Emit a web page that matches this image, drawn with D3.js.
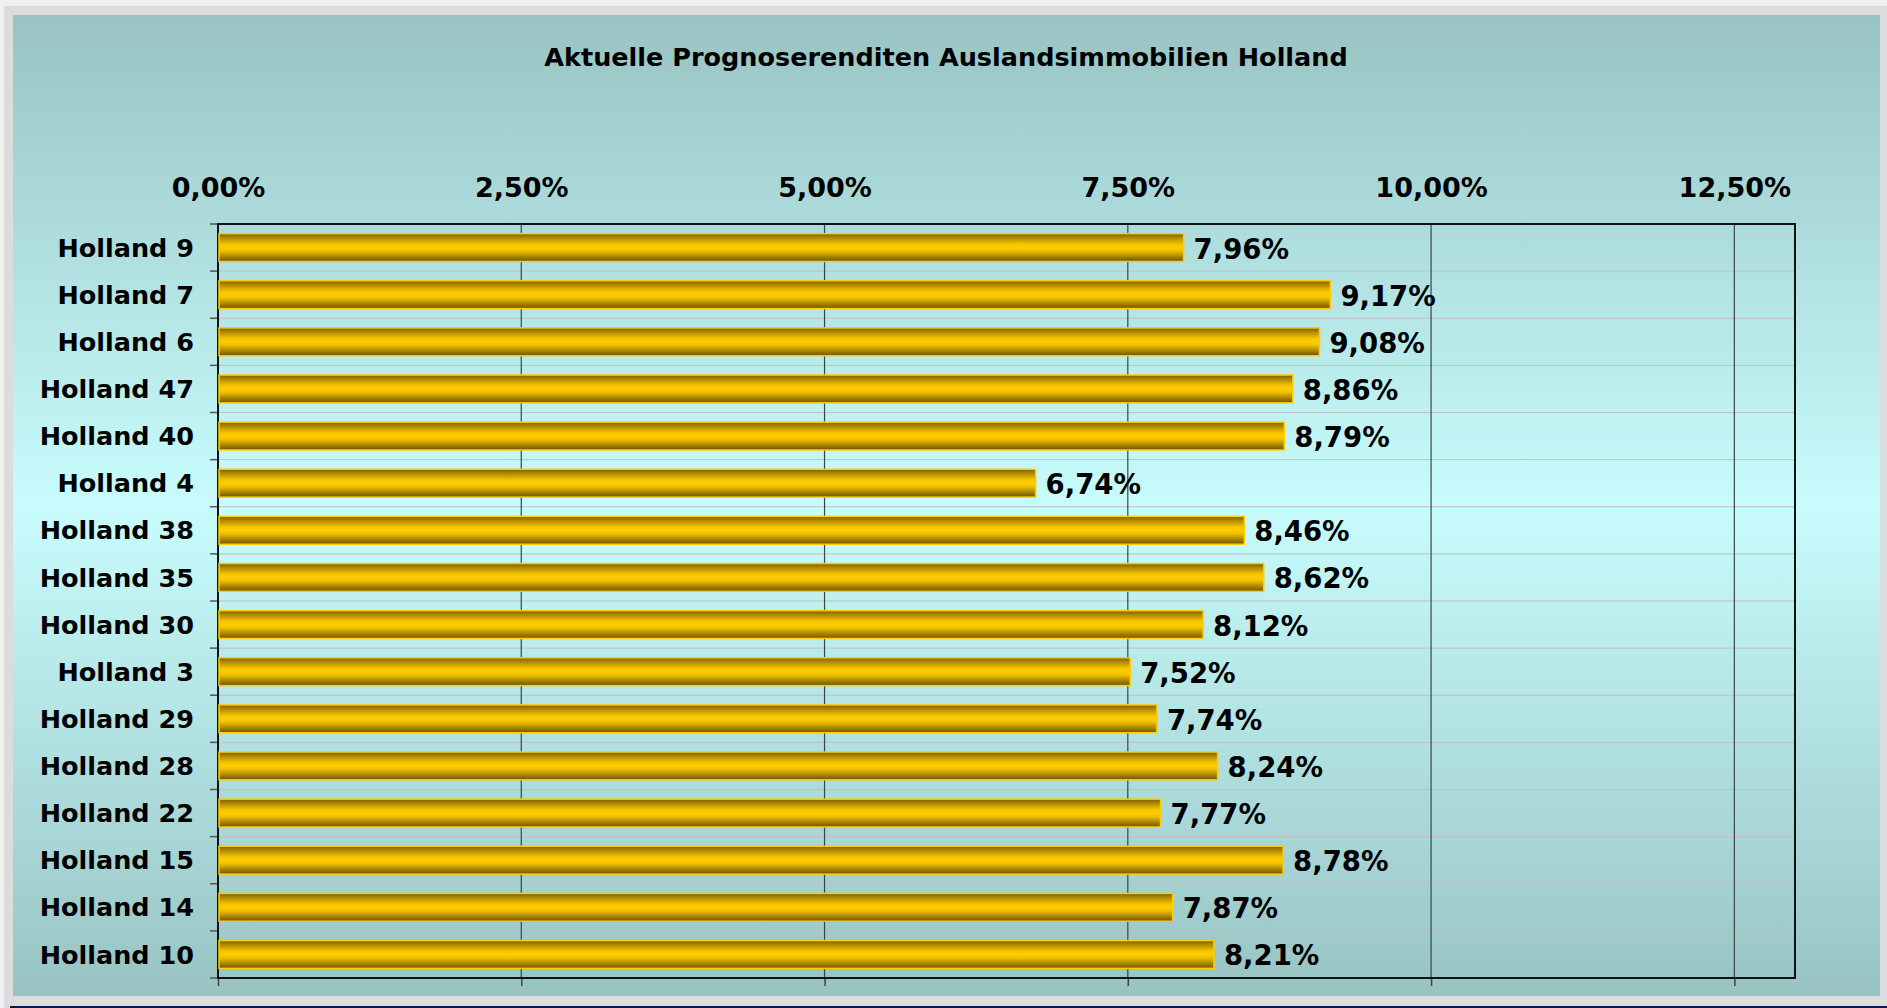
<!DOCTYPE html>
<html>
<head>
<meta charset="utf-8">
<script src="https://cdn.jsdelivr.net/npm/d3@7"></script>
<style>
    body { margin: 0; background: #dcdcdc; }
    svg text { font-family: "DejaVu Sans", Verdana, sans-serif; font-weight: bold; fill: #000; }
</style>
</head>
<body>
<svg id="chart" width="1887" height="1008"></svg>
<script>
// data, top bar first
let categories = ["Holland 9", "Holland 7", "Holland 6", "Holland 47", "Holland 40", "Holland 4",
    "Holland 38", "Holland 35", "Holland 30", "Holland 3", "Holland 29", "Holland 28",
    "Holland 22", "Holland 15", "Holland 14", "Holland 10"];
let values = [7.96, 9.17, 9.08, 8.86, 8.79, 6.74, 8.46, 8.62, 8.12, 7.52, 7.74, 8.24, 7.77, 8.78, 7.87, 8.21];
let tick_values = [0, 2.5, 5, 7.5, 10, 12.5];
let title = "Aktuelle Prognoserenditen Auslandsimmobilien Holland";

let de = d3.formatLocale({decimal: ",", thousands: ".", grouping: [3], currency: ["", " €"]});
let fmt = function (v) { return de.format(".2f")(v) + "%"; };

let svg = d3.select("#chart");
let W = 1887, H = 1008;
let plot = {left: 218, top: 224, right: 1795, bottom: 978};

let defs = svg.append("defs");

// chart background: teal -> light cyan -> teal
let bg = defs.append("linearGradient").attr("id", "bg").attr("x1", 0).attr("y1", 0).attr("x2", 0).attr("y2", 1);
[[0, "#99c3c3"], [0.5, "#c8fcfc"], [1, "#99c3c3"]].forEach(function (s) {
    bg.append("stop").attr("offset", s[0]).attr("stop-color", s[1]);
});

// gold cylinder bars
let bar_grad = defs.append("linearGradient").attr("id", "gold").attr("x1", 0).attr("y1", 0).attr("x2", 0).attr("y2", 1);
[[0, "#7a5e00"], [0.15, "#b08a00"], [0.38, "#f5c400"], [0.5, "#ffcc00"], [0.62, "#f0c000"], [0.85, "#a07e00"], [1, "#6e5400"]].forEach(function (s) {
    bar_grad.append("stop").attr("offset", s[0]).attr("stop-color", s[1]);
});

// outer frame
svg.append("rect").attr("x", 0).attr("y", 0).attr("width", W).attr("height", 6).attr("fill", "#f0f0f0");
svg.append("rect").attr("x", 0).attr("y", 0).attr("width", 4).attr("height", H).attr("fill", "#f0f0f0");
svg.append("rect").attr("x", 13).attr("y", 15).attr("width", 1867).attr("height", 981).attr("fill", "url(#bg)");
svg.append("rect").attr("x", 10).attr("y", 1006).attr("width", W - 10).attr("height", 2).attr("fill", "#0a1a50");

svg.append("text")
    .attr("x", 946).attr("y", 66)
    .attr("text-anchor", "middle")
    .style("font-size", "25.5px")
    .text(title);

let x = d3.scaleLinear().domain([0, 13]).range([plot.left, plot.right]);
let y = d3.scaleBand().domain(categories).range([plot.top, plot.bottom])
    .paddingInner(0.41).paddingOuter(0.205);
let step = y.step();

// horizontal gridlines between categories
svg.append("g").selectAll("line")
    .data(d3.range(1, categories.length))
    .enter().append("line")
    .attr("x1", plot.left).attr("x2", plot.right)
    .attr("y1", function (i) { return plot.top + i * step; })
    .attr("y2", function (i) { return plot.top + i * step; })
    .attr("stroke", "#c0c0c0").attr("stroke-width", 1);

// vertical gridlines
svg.append("g").selectAll("line")
    .data(tick_values.slice(1))
    .enter().append("line")
    .attr("x1", function (d) { return x(d); }).attr("x2", function (d) { return x(d); })
    .attr("y1", plot.top).attr("y2", plot.bottom)
    .attr("stroke", "#3a4646").attr("stroke-width", 1.2);

// category tick marks on the left
svg.append("g").selectAll("line")
    .data(d3.range(0, categories.length + 1))
    .enter().append("line")
    .attr("x1", plot.left - 8).attr("x2", plot.left)
    .attr("y1", function (i) { return plot.top + i * step; })
    .attr("y2", function (i) { return plot.top + i * step; })
    .attr("stroke", "#4a5a5a").attr("stroke-width", 1.5);

// bottom ticks
let bottom_axis = svg.append("g")
    .attr("transform", "translate(0," + plot.bottom + ")")
    .call(d3.axisBottom(x).tickValues(tick_values).tickSize(8).tickFormat(""));
bottom_axis.select(".domain").remove();
bottom_axis.selectAll("line").attr("stroke", "#3a4646").attr("stroke-width", 1.5);

// top labels
let top_axis = svg.append("g")
    .attr("transform", "translate(0," + plot.top + ")")
    .call(d3.axisTop(x).tickValues(tick_values).tickSize(0).tickPadding(27).tickFormat(fmt));
top_axis.select(".domain").remove();
top_axis.selectAll("text")
    .attr("fill", "#000")
    .style("font-family", "'DejaVu Sans', Verdana, sans-serif")
    .style("font-weight", "bold")
    .style("font-size", "27px");

// plot frame
svg.append("rect")
    .attr("x", plot.left).attr("y", plot.top)
    .attr("width", plot.right - plot.left).attr("height", plot.bottom - plot.top)
    .attr("fill", "none").attr("stroke", "#111").attr("stroke-width", 2);

// bars
svg.append("g").selectAll("rect")
    .data(values)
    .enter().append("rect")
    .attr("x", x(0) + 1)
    .attr("y", function (d, i) { return y(categories[i]); })
    .attr("width", function (d) { return x(d) - x(0) - 1; })
    .attr("height", y.bandwidth())
    .attr("fill", "url(#gold)")
    .attr("stroke", "#ffcc00").attr("stroke-width", 1.5);

// value labels
svg.append("g").selectAll("text")
    .data(values)
    .enter().append("text")
    .attr("x", function (d) { return x(d) + 10; })
    .attr("y", function (d, i) { return y(categories[i]) + y.bandwidth() / 2; })
    .attr("dy", "0.4em")
    .style("font-size", "27.5px")
    .text(function (d) { return fmt(d); });

// category labels
svg.append("g").selectAll("text")
    .data(categories)
    .enter().append("text")
    .attr("x", plot.left - 24)
    .attr("y", function (d) { return y(d) + y.bandwidth() / 2; })
    .attr("dy", "0.36em")
    .attr("text-anchor", "end")
    .style("font-size", "25.5px")
    .text(function (d) { return d; });
</script>
</body>
</html>
